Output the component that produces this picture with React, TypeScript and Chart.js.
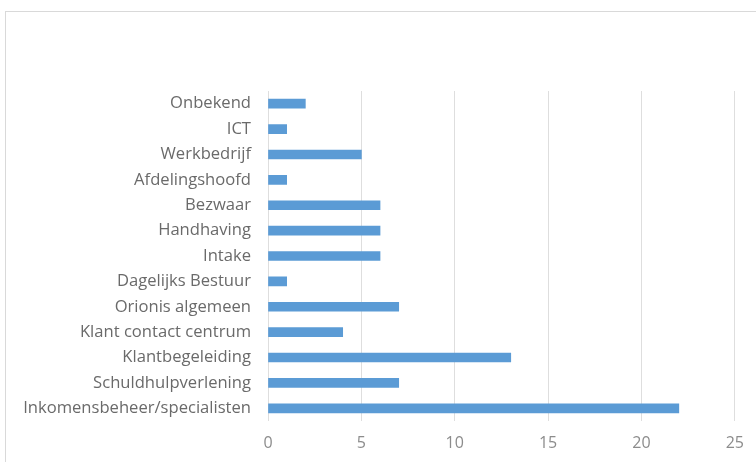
import React, { useEffect, useRef } from "react";
import { Chart, registerables } from "chart.js";

Chart.register(...registerables);

const categories = [
  "Onbekend",
  "ICT",
  "Werkbedrijf",
  "Afdelingshoofd",
  "Bezwaar",
  "Handhaving",
  "Intake",
  "Dagelijks Bestuur",
  "Orionis algemeen",
  "Klant contact centrum",
  "Klantbegeleiding",
  "Schuldhulpverlening",
  "Inkomensbeheer/specialisten",
];
const values = [2, 1, 5, 1, 6, 6, 6, 1, 7, 4, 13, 7, 22];
const xMin = 0;
const xMax = 25;
const xStep = 5;

export default function App() {
  const ref = useRef<HTMLCanvasElement | null>(null);
  useEffect(() => {
    if (!ref.current) return;
    const family = "'Open Sans', Lato, sans-serif";
    const chart = new Chart(ref.current, {
      type: "bar",
      data: {
        labels: categories,
        datasets: [
          {
            data: values,
            backgroundColor: "#5b9bd5",
            borderWidth: 0,
            barThickness: 9,
          },
        ],
      },
      options: {
        indexAxis: "y",
        responsive: false,
        animation: false,
        layout: { padding: { top: 79, right: 19, left: 0, bottom: 0 } },
        plugins: { legend: { display: false }, tooltip: { enabled: false } },
        scales: {
          x: {
            min: xMin,
            max: xMax,
            ticks: { stepSize: xStep, color: "#8c8c8c", font: { family, size: 16 }, padding: 13 },
            grid: { color: "#dedede", drawTicks: false },
            border: { display: false },
            afterFit: (s: any) => {
              s.height = 42;
            },
          },
          y: {
            ticks: { color: "#6a6a6a", font: { family, size: 16.6 }, padding: 17, autoSkip: false },
            grid: { display: false, drawTicks: false },
            border: { display: false },
            afterFit: (s: any) => {
              s.width = 262;
            },
          },
        },
      },
    });
    return () => chart.destroy();
  }, []);
  return (
    <div
      style={{
        position: "fixed",
        left: 5,
        top: 11,
        width: 760,
        height: 460,
        border: "1px solid #d9d9d9",
        background: "#fff",
        boxSizing: "border-box",
      }}
    >
      <canvas ref={ref} width={751} height={451} style={{ display: "block" }} />
    </div>
  );
}
